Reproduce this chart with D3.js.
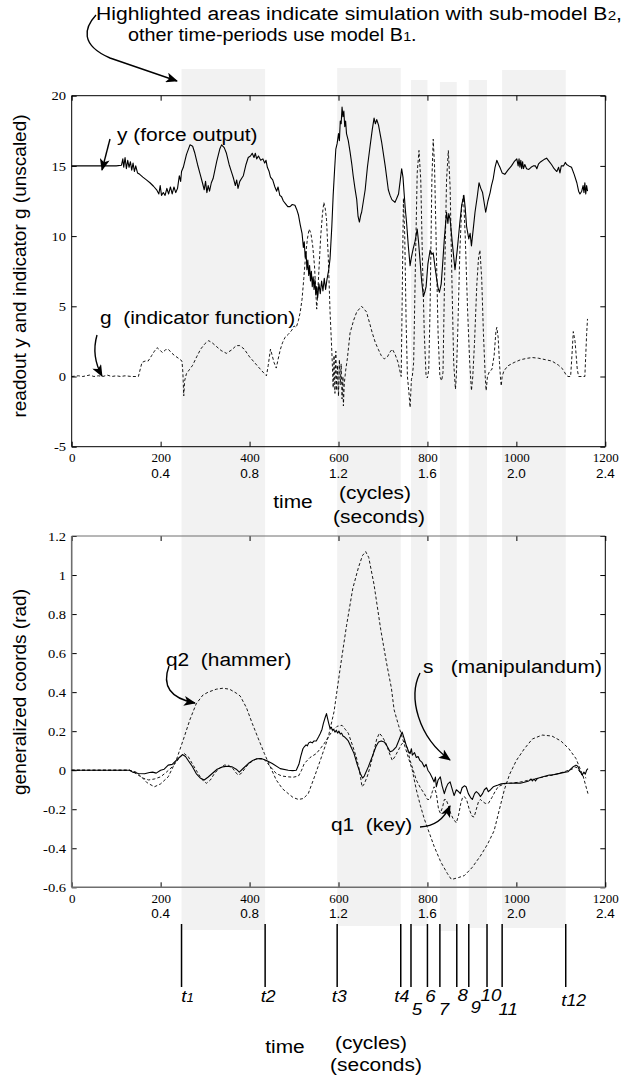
<!DOCTYPE html>
<html>
<head>
<meta charset="utf-8">
<script src="https://cdn.jsdelivr.net/npm/d3@7"></script>
<style>
  body { margin: 0; background: #fff; }
  svg { display: block; }
  text { white-space: pre; }
  .sans { font-family: "Liberation Sans", Arial, sans-serif; }
  .serif { font-family: "Liberation Serif", "Times New Roman", serif; }
</style>
</head>
<body>
<div id="chart"></div>
<script>
// ---- data ----
var cycleTicks = [0, 200, 400, 600, 800, 1000, 1200];
var secondLabels = ["", "0.4", "0.8", "1.2", "1.6", "2.0", "2.4"];
var topYTicks = [-5, 0, 5, 10, 15, 20];
var botYTicks = [-0.6, -0.4, -0.2, 0, 0.2, 0.4, 0.6, 0.8, 1, 1.2];
var botYLabels = ["-0.6", "-0.4", "-0.2", "0", "0.2", "0.4", "0.6", "0.8", "1", "1.2"];

// periods simulated with sub-model B2 (cycles)
var b2Periods = [[247, 435], [597, 740], [763, 800], [828, 866], [893, 934], [968, 1111]];
var tNames = ["t1", "t2", "t3", "t4", "5", "6", "7", "8", "9", "10", "11", "t12"];

// y (force output), [cycle, value]
var forceOutput = [[0,15.0],[50,15.0],[100,15.0],[112,15.05],[115,15.5],[117,14.9],[120,15.6],[123,14.8],[126,15.4],[129,14.9],
  [132,15.3],[135,14.7],[138,15.2],[141,14.6],[144,15.0],[148,14.5],[153,14.4],[160,14.2],[168,14.0],[176,13.8],[184,13.55],
  [191,13.3],[196,13.0],[199,13.6],[202,12.9],[206,13.1],[210,12.9],[214,13.4],[218,13.0],[222,13.5],[226,13.0],[230,13.5],
  [234,13.1],[238,13.4],[242,14.3],[245,13.9],[247,14.6],[251,14.9],[258,15.8],[266,16.5],[272,16.4],[277,15.9],[283,15.1],
  [289,14.4],[294,13.8],[298,13.3],[301,13.9],[304,13.1],[307,13.6],[310,13.2],[314,13.8],[318,14.1],[326,15.3],[333,16.2],
  [337,16.5],[343,16.3],[348,15.9],[354,15.1],[360,14.5],[364,14.1],[368,13.6],[371,14.0],[374,13.4],[378,13.9],[382,14.1],
  [386,14.3],[392,15.1],[397,15.6],[402,15.7],[406,15.9],[410,15.6],[413,15.9],[416,15.5],[420,15.7],[425,15.4],[430,15.5],
  [434,15.2],[437,15.4],[440,14.9],[444,14.6],[447,14.2],[452,14.0],[457,13.5],[461,13.2],[464,13.5],[468,12.9],[472,12.8],
  [476,12.5],[481,12.3],[486,12.1],[491,12.1],[496,12.25],[502,12.2],[506,11.9],[510,11.5],[514,10.8],[518,10.2],[521,9.2],
  [523,9.6],[525,8.5],[527,8.9],[529,7.6],[531,8.3],[533,7.2],[535,7.9],[537,6.8],[539,7.5],[541,6.4],[543,7.1],[545,6.2],
  [547,6.9],[549,5.8],[551,6.4],[553,5.6],[556,6.6],[559,5.9],[562,6.8],[565,6.1],[568,7.0],[571,6.2],[574,6.9],[578,7.6],
  [581,8.4],[585,10.7],[588,12.9],[591,14.6],[594,16.2],[597,16.6],[600,17.3],[602,16.8],[604,18.2],[606,18.0],[608,19.2],
  [610,18.5],[612,18.9],[614,17.8],[616,18.2],[618,17.3],[622,16.8],[626,16.0],[630,15.1],[633,14.3],[637,13.4],[641,12.6],
  [644,11.4],[647,11.0],[650,11.5],[652,11.7],[656,12.5],[660,13.3],[665,14.9],[671,16.4],[676,17.6],[680,18.4],[683,18.0],
  [686,18.3],[690,17.9],[697,16.7],[705,15.0],[712,13.3],[716,12.9],[720,12.6],[727,12.4],[731,12.7],[735,13.0],[739,14.0],
  [742,14.8],[745,14.2],[747,13.3],[750,12.0],[753,11.0],[757,9.3],[761,7.9],[764,8.5],[768,9.1],[772,9.6],[777,10.5],
  [780,9.6],[783,8.4],[787,6.8],[791,5.7],[794,6.0],[797,6.4],[801,8.0],[806,9.0],[810,8.7],[813,8.8],[817,7.8],[821,6.9],
  [824,6.3],[827,6.0],[831,6.6],[834,7.9],[838,9.8],[843,11.7],[846,10.9],[848,11.6],[851,11.2],[856,9.5],[862,7.6],[867,9.0],
  [873,11.0],[877,12.2],[882,12.9],[885,12.0],[888,10.7],[893,9.8],[896,10.2],[899,9.3],[903,10.5],[907,11.7],[912,12.8],
  [916,13.8],[920,13.4],[924,13.1],[927,12.5],[931,11.7],[936,12.5],[941,13.1],[944,13.6],[948,14.1],[952,14.9],[956,15.4],
  [960,15.1],[963,14.9],[968,14.5],[974,14.4],[981,14.7],[989,15.0],[995,15.3],[1001,15.5],[1004,15.0],[1006,15.5],[1008,14.9],
  [1010,15.4],[1012,14.8],[1014,15.3],[1016,14.8],[1019,15.1],[1023,14.8],[1028,14.75],[1033,14.9],[1038,15.0],[1043,15.0],
  [1046,14.8],[1050,15.15],[1055,15.3],[1062,15.45],[1068,15.55],[1074,15.3],[1079,15.1],[1085,14.8],[1091,14.6],[1095,14.9],
  [1098,14.5],[1101,15.0],[1106,15.0],[1110,15.25],[1113,15.1],[1118,15.0],[1124,14.9],[1130,14.4],[1136,13.8],[1140,13.2],
  [1143,13.0],[1147,13.2],[1150,13.6],[1152,13.1],[1154,13.8],[1156,13.0],[1158,13.6],[1160,13.2]];

// g (indicator function)
var indicator = [[0,0.0],[15,0.05],[25,0.0],[40,0.1],[50,0.0],[60,0.05],[70,0.0],[80,0.1],[90,0.0],[100,0.05],[110,0.0],
  [120,0.05],[135,0.0],[150,0.0],[158,1.0],[165,1.1],[172,1.1],[180,1.5],[186,1.8],[192,2.05],[198,1.9],[204,1.7],[211,1.9],
  [217,1.95],[224,1.7],[231,1.5],[240,1.3],[248,1.1],[250,0.3],[252,-1.38],[254,-0.3],[258,0.2],[265,0.5],[272,0.8],[281,1.4],
  [290,1.95],[300,2.35],[308,2.55],[316,2.4],[325,2.15],[336,1.85],[348,1.65],[360,1.9],[370,2.2],[378,2.2],[388,1.95],
  [400,1.4],[411,1.0],[422,0.6],[432,0.25],[438,0.05],[442,0.8],[447,1.95],[450,1.6],[455,1.0],[460,0.6],[464,1.2],[469,1.9],
  [474,2.4],[480,2.8],[487,3.0],[495,3.3],[500,3.6],[505,3.5],[510,4.0],[514,4.6],[518,5.5],[522,7.0],[526,8.6],[530,9.8],
  [534,10.5],[538,10.2],[542,9.3],[546,7.9],[549,6.0],[551,4.8],[553,5.8],[556,7.6],[560,10.0],[564,11.6],[567,12.4],
  [570,12.0],[573,11.2],[577,8.5],[581,4.6],[584,2.5],[586,1.0],[588,-0.8],[590,1.5],[592,-1.2],[594,1.8],[596,-1.0],
  [598,0.8],[600,-1.4],[602,1.2],[604,-0.6],[606,0.9],[608,-1.6],[610,0.0],[611,-2.1],[613,-0.5],[616,0.4],[620,1.3],
  [626,3.1],[634,4.0],[641,4.6],[652,5.0],[663,4.6],[670,3.8],[676,3.1],[683,2.4],[690,1.9],[696,1.5],[703,1.25],[710,1.4],
  [716,1.75],[721,1.95],[727,1.6],[734,1.0],[738,0.4],[741,0.0],[743,5.0],[746,12.7],[749,10.0],[752,4.0],[755,0.0],
  [758,-1.0],[761,-2.2],[764,-0.2],[766,0.0],[769,1.0],[773,8.0],[777,14.5],[781,16.1],[785,14.0],[789,8.0],[793,3.0],
  [797,0.0],[800,-0.1],[803,0.5],[806,5.0],[810,14.0],[813,16.9],[816,15.0],[820,9.0],[824,3.0],[828,0.0],[832,-0.3],
  [835,0.3],[838,6.0],[843,14.0],[847,16.1],[851,13.5],[855,7.0],[859,1.0],[863,-0.9],[865,0.0],[868,3.0],[873,9.0],
  [877,12.0],[881,12.9],[885,10.0],[890,5.0],[895,1.0],[899,-1.0],[902,0.0],[906,2.5],[911,6.5],[915,8.5],[918,9.0],
  [922,7.0],[926,3.0],[930,0.0],[932,-1.0],[935,0.0],[940,0.4],[945,0.5],[950,1.5],[954,3.2],[956,3.5],[959,2.8],[962,1.0],
  [964,0.0],[966,-0.67],[968,0.0],[972,0.4],[981,0.76],[995,1.0],[1010,1.2],[1025,1.3],[1036,1.35],[1050,1.3],[1065,1.2],
  [1080,1.1],[1095,0.8],[1105,0.5],[1112,0.1],[1116,0.0],[1122,0.0],[1125,1.5],[1128,3.2],[1132,2.5],[1137,0.5],[1140,0.0],
  [1150,0.0],[1154,0.0],[1156,1.5],[1158,3.0],[1160,4.1]];

// q2 (hammer)
var hammer = [[0,0],[50,0],[100,0],[130,0],[145,-0.01],[155,-0.03],[170,-0.065],[186,-0.085],[200,-0.07],[217,-0.034],
  [235,0.05],[253,0.17],[266,0.26],[280,0.34],[295,0.385],[307,0.40],[325,0.415],[340,0.42],[355,0.415],[370,0.395],
  [379,0.38],[393,0.32],[406,0.24],[420,0.16],[433,0.087],[446,0.02],[460,-0.05],[474,-0.095],[487,-0.12],[498,-0.14],
  [510,-0.15],[521,-0.145],[532,-0.12],[545,-0.04],[559,0.05],[577,0.17],[590,0.3],[603,0.51],[618,0.74],[632,0.93],
  [645,1.04],[654,1.1],[661,1.12],[668,1.09],[680,0.95],[695,0.72],[708,0.55],[719,0.42],[725,0.31],[735,0.23],[743,0.17],
  [755,0.08],[766,0.0],[775,-0.1],[784,-0.18],[793,-0.25],[804,-0.32],[815,-0.39],[830,-0.47],[845,-0.53],[854,-0.56],
  [870,-0.55],[883,-0.54],[900,-0.5],[919,-0.44],[935,-0.38],[950,-0.31],[962,-0.2],[973,-0.1],[985,-0.02],[1000,0.05],
  [1018,0.11],[1036,0.16],[1058,0.18],[1080,0.175],[1100,0.15],[1118,0.11],[1134,0.06],[1150,-0.03],[1161,-0.12]];

// s (manipulandum)
var manipulandum = [[0,0],[60,0],[100,0],[130,0],[137,-0.01],[150,-0.017],[164,-0.018],[175,-0.012],[182,-0.01],[190,-0.015],
  [200,0.0],[208,0.005],[217,0.026],[226,0.03],[235,0.05],[242,0.065],[249,0.08],[256,0.07],[262,0.05],[271,0.02],
  [280,-0.017],[289,-0.04],[298,-0.05],[307,-0.035],[316,-0.017],[327,0.005],[339,0.017],[350,0.02],[361,0.017],[370,0.005],
  [377,-0.01],[386,0.01],[397,0.034],[407,0.05],[415,0.058],[426,0.06],[438,0.05],[451,0.034],[469,0.008],[487,0.0],
  [497,-0.002],[505,0.0],[511,0.03],[515,0.07],[520,0.11],[523,0.12],[527,0.13],[530,0.125],[533,0.14],[537,0.145],
  [541,0.14],[545,0.15],[550,0.15],[555,0.17],[559,0.188],[563,0.21],[566,0.24],[570,0.27],[573,0.29],[575,0.27],[578,0.24],
  [581,0.215],[584,0.22],[586,0.205],[589,0.21],[592,0.195],[595,0.205],[598,0.19],[601,0.2],[604,0.185],[607,0.19],
  [610,0.175],[614,0.17],[618,0.16],[622,0.15],[628,0.12],[635,0.085],[642,0.03],[649,-0.017],[654,-0.04],[658,-0.03],
  [667,0.017],[676,0.07],[684,0.12],[690,0.145],[696,0.15],[703,0.145],[710,0.12],[716,0.094],[722,0.1],[730,0.12],
  [737,0.16],[743,0.196],[748,0.16],[752,0.13],[757,0.1],[761,0.085],[764,0.11],[766,0.077],[771,0.09],[775,0.065],
  [779,0.07],[783,0.05],[788,0.04],[793,0.017],[797,0.03],[801,0.0],[806,-0.017],[811,-0.04],[815,-0.06],[818,-0.035],
  [820,-0.085],[824,-0.05],[829,-0.034],[833,-0.08],[838,-0.12],[842,-0.09],[846,-0.07],[851,-0.06],[856,-0.1],[860,-0.13],
  [865,-0.1],[870,-0.11],[874,-0.12],[878,-0.09],[883,-0.08],[887,-0.085],[892,-0.12],[897,-0.14],[901,-0.15],[906,-0.12],
  [910,-0.11],[915,-0.12],[919,-0.135],[924,-0.12],[928,-0.1],[933,-0.09],[937,-0.11],[942,-0.1],[948,-0.085],[954,-0.08],
  [959,-0.076],[966,-0.07],[977,-0.067],[990,-0.067],[1000,-0.065],[1009,-0.067],[1020,-0.06],[1028,-0.055],[1033,-0.045],
  [1036,-0.055],[1040,-0.045],[1043,-0.055],[1046,-0.045],[1050,-0.04],[1058,-0.035],[1066,-0.03],[1074,-0.025],
  [1080,-0.025],[1090,-0.02],[1100,-0.015],[1110,-0.01],[1116,-0.008],[1122,0.005],[1128,0.018],[1134,0.026],[1138,0.02],
  [1142,0.0],[1148,-0.025],[1152,-0.01],[1155,-0.02],[1158,0.0],[1161,0.008]];

// q1 (key)
var keyAngle = [[0,0],[100,0],[130,0],[140,-0.01],[150,-0.026],[162,-0.042],[173,-0.05],[186,-0.045],[200,-0.034],
  [213,-0.01],[226,0.017],[236,0.045],[244,0.068],[253,0.085],[262,0.07],[271,0.034],[280,0.0],[289,-0.034],[296,-0.055],
  [303,-0.067],[312,-0.05],[321,-0.017],[332,0.01],[343,0.026],[352,0.026],[362,0.01],[370,-0.015],[375,-0.025],[382,-0.015],
  [390,0.01],[397,0.03],[408,0.05],[419,0.06],[433,0.055],[446,0.02],[460,-0.017],[473,-0.03],[487,-0.034],[498,-0.036],
  [510,-0.03],[517,0.0],[523,0.034],[536,0.065],[550,0.085],[559,0.11],[568,0.137],[577,0.17],[586,0.2],[597,0.225],
  [608,0.23],[615,0.21],[622,0.19],[631,0.13],[640,0.068],[647,0.0],[653,-0.085],[658,-0.07],[665,-0.03],[671,0.017],
  [680,0.1],[686,0.16],[692,0.19],[699,0.17],[707,0.137],[714,0.09],[721,0.05],[727,0.07],[734,0.1],[741,0.13],[748,0.15],
  [755,0.11],[761,0.05],[768,0.0],[775,-0.05],[784,-0.09],[793,-0.12],[800,-0.15],[806,-0.15],[811,-0.11],[815,-0.085],
  [820,-0.12],[825,-0.2],[829,-0.22],[834,-0.19],[838,-0.15],[842,-0.15],[847,-0.18],[852,-0.22],[858,-0.25],[865,-0.27],
  [870,-0.23],[875,-0.17],[879,-0.14],[883,-0.135],[888,-0.15],[894,-0.2],[900,-0.235],[905,-0.24],[910,-0.2],[915,-0.16],
  [919,-0.15],[924,-0.16],[930,-0.17],[937,-0.17],[945,-0.14],[952,-0.11],[959,-0.085],[968,-0.075],[978,-0.067],
  [995,-0.065],[1010,-0.06],[1030,-0.05],[1050,-0.04],[1070,-0.03],[1090,-0.02],[1105,-0.01],[1118,0.0],[1125,0.005],
  [1134,0.017],[1140,0.0],[1146,-0.02],[1152,-0.035],[1157,-0.04]];

// ---- layout ----
var W = 626, H = 1078;
var STRETCH = 1.1;   // the figure's lettering is a little wider than Arial
var svg = d3.select("#chart").append("svg").attr("width", W).attr("height", H);
svg.append("rect").attr("width", W).attr("height", H).attr("fill", "#fff");

var x = d3.scaleLinear().domain([0, 1200]).range([71.7, 605.3]);
var yTop = d3.scaleLinear().domain([-5, 20]).range([446.7, 95.7]);
var yBot = d3.scaleLinear().domain([-0.6, 1.2]).range([887.3, 536]);

// shaded B2 periods run through both panels
var bandTop = [69, 68, 80, 82, 80, 70];
var bandBottom = [930, 926, 926, 931, 928, 928];
svg.append("g").selectAll("rect")
  .data(b2Periods)
  .enter()
  .append("rect")
  .attr("x", function (d) { return x(d[0]); })
  .attr("width", function (d) { return x(d[1]) - x(d[0]); })
  .attr("y", function (d, i) { return bandTop[i]; })
  .attr("height", function (d, i) { return bandBottom[i] - bandTop[i]; })
  .attr("fill", "#f2f2f2");

function drawFrame(yScale, yTicks, yLabels, frameColor) {
  var x0 = x.range()[0], x1 = x.range()[1];
  var yb = yScale.range()[0], yt = yScale.range()[1];

  var left = svg.append("g").attr("transform", "translate(" + x0 + ",0)")
    .call(d3.axisLeft(yScale).tickValues(yTicks).tickSize(-5).tickPadding(5)
      .tickFormat(function (d, i) { return yLabels[i]; }));
  var right = svg.append("g").attr("transform", "translate(" + x1 + ",0)")
    .call(d3.axisRight(yScale).tickValues(yTicks).tickSize(-5).tickFormat(""));
  var top = svg.append("g").attr("transform", "translate(0," + yt + ")")
    .call(d3.axisTop(x).tickValues(cycleTicks).tickSize(-5).tickFormat(""));
  var bottom = svg.append("g").attr("transform", "translate(0," + yb + ")")
    .call(d3.axisBottom(x).tickValues(cycleTicks).tickSize(-5).tickPadding(6).tickFormat(d3.format("d")));

  [left, right, top, bottom].forEach(function (g) {
    g.select(".domain").remove();
    g.selectAll("line").attr("stroke", "#000");
    g.selectAll("text").attr("class", "serif").attr("font-size", 13).attr("fill", "#000")
      .attr("transform", "scale(1.12,1)");
  });

  // second row of x labels: seconds
  bottom.selectAll(".sec")
    .data(cycleTicks)
    .enter()
    .append("text")
    .attr("class", "sans")
    .attr("x", function (d) { return x(d); })
    .attr("y", 31)
    .attr("text-anchor", "middle")
    .attr("font-size", 13.5)
    .attr("fill", "#000")
    .text(function (d, i) { return secondLabels[i]; });

  svg.append("line").attr("x1", x0).attr("x2", x1).attr("y1", yt).attr("y2", yt).attr("stroke", frameColor);
  svg.append("line").attr("x1", x1).attr("x2", x1).attr("y1", yt).attr("y2", yb).attr("stroke", "#000");
  svg.append("line").attr("x1", x0).attr("x2", x0).attr("y1", yt).attr("y2", yb)
    .attr("stroke", frameColor).attr("stroke-width", frameColor == "#000" ? 1 : 1.6);
  svg.append("line").attr("x1", x0).attr("x2", x1).attr("y1", yb).attr("y2", yb)
    .attr("stroke", frameColor).attr("stroke-width", frameColor == "#000" ? 1 : 1.6);
}

drawFrame(yTop, topYTicks, topYTicks.map(String), "#000");
drawFrame(yBot, botYTicks, botYLabels, "#6e6e6e");

// the bottom-axis tick labels were stretched about x = 0; put them back under their ticks
svg.selectAll("g.tick text").each(function () {
  var t = d3.select(this);
  var tick = d3.select(this.parentNode);
  var tr = tick.attr("transform");
  if (tr && tr.indexOf("translate(0,") === -1 && t.attr("text-anchor") !== "end") {
    t.attr("transform", null).attr("textLength", null);
  }
});

function drawSeries(data, yScale, dashed, width) {
  var line = d3.line()
    .x(function (d) { return x(d[0]); })
    .y(function (d) { return yScale(d[1]); });
  svg.append("path")
    .datum(data)
    .attr("d", line)
    .attr("fill", "none")
    .attr("stroke", "#000")
    .attr("stroke-width", width)
    .attr("stroke-linejoin", "round")
    .attr("stroke-dasharray", dashed ? "3,2.2" : null);
}

drawSeries(indicator, yTop, true, 0.9);
drawSeries(forceOutput, yTop, false, 1.1);
drawSeries(hammer, yBot, true, 0.9);
drawSeries(keyAngle, yBot, true, 0.9);
drawSeries(manipulandum, yBot, false, 1.1);

// ---- arrows ----
svg.append("defs").append("marker")
  .attr("id", "head")
  .attr("viewBox", "0 0 12 10")
  .attr("refX", 11).attr("refY", 5)
  .attr("markerWidth", 13).attr("markerHeight", 10)
  .attr("markerUnits", "userSpaceOnUse")
  .attr("orient", "auto")
  .append("path").attr("d", "M0,0 L12,5 L0,10 L3,5 z").attr("fill", "#000");

var arrows = [
  "M96,15 C84,28 80,45 110,58 L177,81",
  "M110,139 L102,170",
  "M97,335 Q91,356 102,376",
  "M169,666 Q158,696 195,703",
  "M420,673 C408,697 418,737 450,760",
  "M420,827 Q441,826 450,806"
];
svg.append("g").selectAll("path")
  .data(arrows)
  .enter()
  .append("path")
  .attr("d", function (d) { return d; })
  .attr("fill", "none")
  .attr("stroke", "#000")
  .attr("stroke-width", 1.4)
  .attr("marker-end", "url(#head)");

// ---- text ----
function label(px, py, str, size, anchor, sx) {
  return svg.append("text")
    .attr("class", "sans")
    .attr("transform", "translate(" + px + "," + py + ") scale(" + (sx || STRETCH) + ",1)")
    .attr("font-size", size)
    .attr("text-anchor", anchor || "start")
    .attr("fill", "#000")
    .text(str);
}

// two-line note with subscripted model names, fitted to run from x=96 to the right edge
function note(px, py, parts, rightEdge) {
  var nodes = parts.map(function (p) { return label(0, py, p[0], p[1], "start", 1); });
  var widths = nodes.map(function (n) { return n.node().getComputedTextLength(); });
  var total = d3.sum(widths);
  var sx = rightEdge ? (rightEdge - px) / total : STRETCH;
  var cx = px;
  nodes.forEach(function (n, i) {
    n.attr("transform", "translate(" + cx + "," + py + ") scale(" + sx + ",1)");
    cx += widths[i] * sx;
  });
}
note(96, 20, [["Highlighted areas indicate simulation with sub-model B", 18], ["2", 13], [",", 18]], 622);
note(128, 41, [["other time-periods use model B", 18], ["1", 13], [".", 18]]);

label(117, 141, "y (force output)", 19);
label(100, 324, "g  (indicator function)", 19);
label(166, 666, "q2  (hammer)", 19);
label(423, 673, "s   (manipulandum)", 19);
label(331, 831, "q1  (key)", 19);

label(293, 508, "time", 19, "middle");
label(375, 499, "(cycles)", 19, "middle");
label(379, 523, "(seconds)", 19, "middle");
label(285, 1053, "time", 19, "middle");
label(371, 1049, "(cycles)", 19, "middle");
label(376, 1071, "(seconds)", 19, "middle");

svg.append("text").attr("class", "sans").attr("font-size", 19).attr("text-anchor", "middle")
  .attr("transform", "translate(26,266) rotate(-90)")
  .text("readout y and indicator g (unscaled)");
svg.append("text").attr("class", "sans").attr("font-size", 19).attr("text-anchor", "middle")
  .attr("transform", "translate(26,692) rotate(-90)")
  .text("generalized coords (rad)");

// ---- switching instants t1..t12 ----
var edges = [];
b2Periods.forEach(function (p) { edges.push(p[0], p[1]); });
svg.append("g").selectAll("line")
  .data(edges)
  .enter()
  .append("line")
  .attr("x1", function (d) { return x(d); })
  .attr("x2", function (d) { return x(d); })
  .attr("y1", 924).attr("y2", 987)
  .attr("stroke", "#000").attr("stroke-width", 1.5);

var tDx = [6, 3, 2, 1, 6, 3, 4, 6, 7, 4, 6, 8];
var tDy = [1002, 1002, 1002, 1002, 1015, 1002, 1015, 1001, 1013, 1001, 1015, 1006];
svg.append("g").selectAll("text")
  .data(tNames)
  .enter()
  .append("text")
  .attr("class", "sans")
  .attr("font-style", "italic")
  .attr("font-size", 17)
  .attr("text-anchor", "middle")
  .attr("transform", function (d, i) {
    return "translate(" + (x(edges[i]) + tDx[i]) + "," + tDy[i] + ") scale(" + STRETCH + ",1)";
  })
  .each(function (d) {
    var t = d3.select(this);
    if (d.charAt(0) == "t") {
      t.append("tspan").text("t");
      t.append("tspan").attr("font-size", d == "t1" ? 12 : 16).text(d.slice(1));
    } else {
      t.text(d);
    }
  });
</script>
</body>
</html>
